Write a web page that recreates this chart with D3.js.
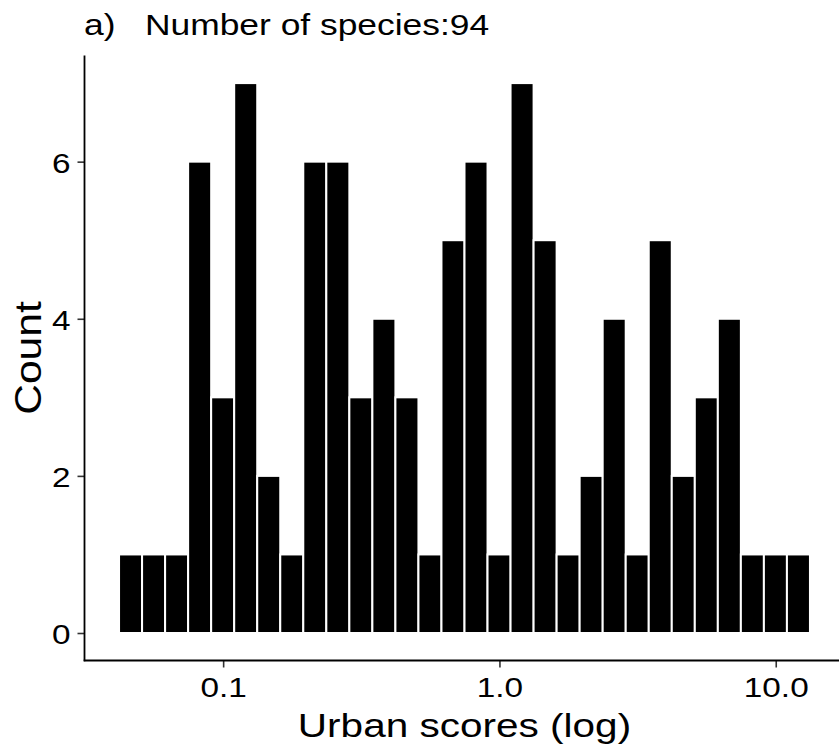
<!DOCTYPE html>
<html>
<head>
<meta charset="utf-8">
<script src="https://cdn.jsdelivr.net/npm/d3@7"></script>
<style>
  html, body { margin: 0; padding: 0; background: #fff; }
  svg { display: block; }
  text { font-family: "Liberation Sans", Arial, sans-serif; }
</style>
</head>
<body>
<svg id="chart" width="839" height="755"></svg>
<script>
// ---- data ----
const counts = [1,1,1,6,3,7,2,1,6,6,3,4,3,1,5,6,1,7,5,1,2,4,1,5,2,3,4,1,1,1];
const histRange = [0.042, 13.3];          // lower / upper edge of histogram (urban score)
const xTickValues = [0.1, 1, 10];
const xTickLabels = ["0.1", "1.0", "10.0"];
const yTickValues = [0, 2, 4, 6];
const titleText = "a)   Number of species:94";
const xTitle = "Urban scores (log)";
const yTitle = "Count";

// ---- layout ----
const W = 839, H = 755;
const panel = { left: 84.5, right: 844.5, top: 55.6, bottom: 660.5 };
const sx = 1.19; // horizontal glyph stretch of the reference font

const svg = d3.select("#chart");

// bins equal-width in log space
const nb = counts.length;
const lLo = Math.log10(histRange[0]), lHi = Math.log10(histRange[1]);
const step = (lHi - lLo) / nb;
const bins = counts.map((c, i) => ({
  x0: Math.pow(10, lLo + i * step),
  x1: Math.pow(10, lLo + (i + 1) * step),
  count: c
}));

const pad = (lHi - lLo) * 0.05;
const x = d3.scaleLog()
  .domain([Math.pow(10, lLo - pad), Math.pow(10, lHi + pad)])
  .range([panel.left, panel.right]);
const yMax = d3.max(counts);
const y = d3.scaleLinear()
  .domain([-yMax * 0.05, yMax * 1.05])
  .range([panel.bottom, panel.top]);

// bars
svg.append("g").selectAll("rect")
  .data(bins)
  .join("rect")
  .attr("x", d => x(d.x0))
  .attr("width", d => x(d.x1) - x(d.x0))
  .attr("y", d => y(d.count))
  .attr("height", d => y(0) - y(d.count))
  .attr("fill", "#000")
  .attr("stroke", "#fff")
  .attr("stroke-width", 2);

// y axis
const gy = svg.append("g")
  .attr("transform", `translate(${panel.left},0)`)
  .call(d3.axisLeft(y).tickValues(yTickValues).tickSize(7).tickSizeOuter(0).tickFormat(d3.format("d")));
gy.select(".domain").remove();
gy.selectAll(".tick line").attr("stroke", "#333").attr("stroke-width", 1.6);
gy.selectAll(".tick text")
  .attr("fill", "#000")
  .style("font-size", "28px")
  .attr("x", -14 / sx)
  .attr("dy", "0.39em")
  .attr("transform", `scale(${sx},1)`);

// x axis
const gx = svg.append("g")
  .attr("transform", `translate(0,${panel.bottom})`)
  .call(d3.axisBottom(x).tickValues(xTickValues).tickSize(7).tickSizeOuter(0)
    .tickFormat((d, i) => xTickLabels[i]));
gx.select(".domain").remove();
gx.selectAll(".tick line").attr("stroke", "#333").attr("stroke-width", 1.6);
gx.selectAll(".tick text")
  .attr("fill", "#000")
  .style("font-size", "28px")
  .attr("y", 37)
  .attr("dy", 0)
  .attr("transform", `scale(${sx},1)`);

// axis lines
svg.append("line")
  .attr("x1", panel.left).attr("x2", panel.left)
  .attr("y1", panel.top).attr("y2", panel.bottom + 0.8)
  .attr("stroke", "#000").attr("stroke-width", 1.8);
svg.append("line")
  .attr("x1", panel.left - 0.8).attr("x2", W)
  .attr("y1", panel.bottom).attr("y2", panel.bottom)
  .attr("stroke", "#000").attr("stroke-width", 1.8);

// title
svg.append("text")
  .attr("transform", `translate(84,35) scale(1.18,1)`)
  .style("font-size", "30px")
  .attr("fill", "#000")
  .attr("xml:space", "preserve")
  .style("white-space", "pre")
  .text(titleText);

// x title
svg.append("text")
  .attr("transform", `translate(${(panel.left + panel.right) / 2},737) scale(1.21,1)`)
  .attr("text-anchor", "middle")
  .style("font-size", "33.5px")
  .attr("fill", "#000")
  .text(xTitle);

// y title
svg.append("text")
  .attr("transform", `translate(40.5,${(panel.top + panel.bottom) / 2}) rotate(-90) scale(1.15,1)`)
  .attr("text-anchor", "middle")
  .style("font-size", "37px")
  .attr("fill", "#000")
  .text(yTitle);
</script>
</body>
</html>
